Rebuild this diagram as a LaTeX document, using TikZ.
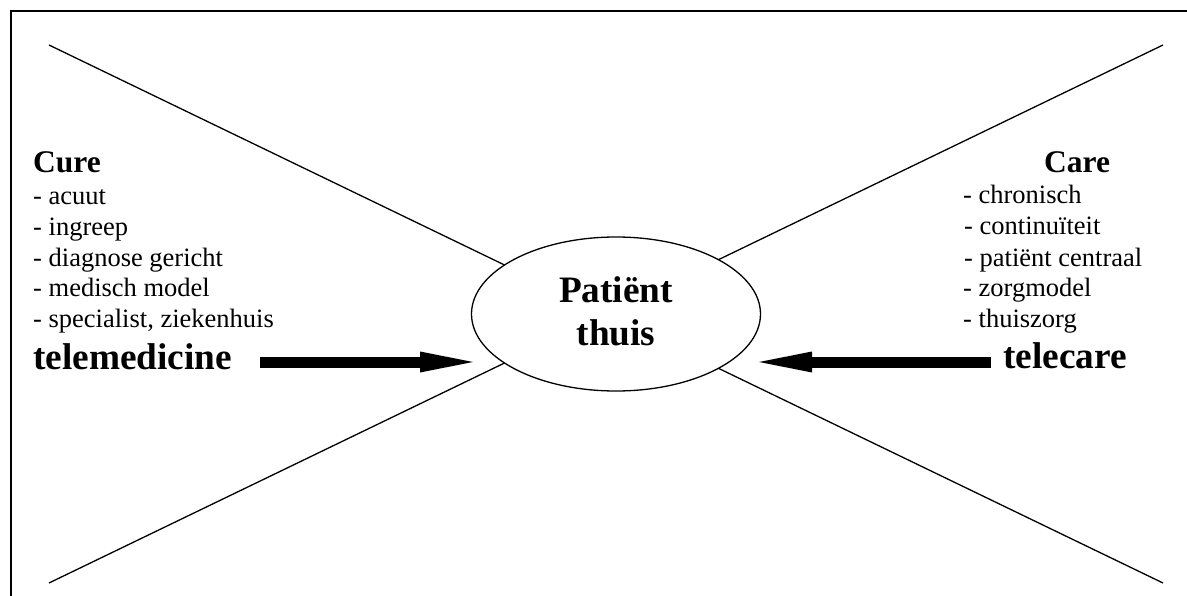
\documentclass[tikz,border=0pt]{standalone}
\usepackage{fontspec}
\setmainfont{Liberation Serif}
\usetikzlibrary{arrows.meta,shapes.geometric}
\begin{document}
\begin{tikzpicture}[x=1pt,y=-1pt,
  item/.style={anchor=base west, inner sep=0pt, font=\fontsize{26.5}{30}\selectfont},
  head/.style={anchor=base west, inner sep=0pt, font=\fontsize{31.5}{36}\selectfont\bfseries},
  big/.style={anchor=base west, inner sep=0pt, font=\fontsize{37.3}{42}\selectfont\bfseries},
  cross/.style={line width=1.3pt},
  fat/.style={line width=11pt, -{Triangle[length=53pt,width=21pt,line width=0pt]}},
  frame/.style={line width=2pt},
]
\useasboundingbox (0,0) rectangle (1187,596);
% frame (left and top edges visible)
\draw[frame] (11,596) -- (11,11) -- (1187,11);
% cross lines
\coordinate (tl) at (49,45);
\coordinate (tr) at (1163,45);
\coordinate (bl) at (49,583);
\coordinate (br) at (1163,583);
\draw[cross] (tl) -- (br);
\draw[cross] (bl) -- (tr);
% central ellipse
\node[draw, ellipse, fill=white, line width=1.3pt, inner sep=0pt,
      minimum width=289pt, minimum height=154pt] (pat) at (616,314) {};
\node[big, anchor=base] (pt1) at (616,302) {Patiënt};
\node[big, anchor=base] (pt2) at (616,345) {thuis};
% left column
\node[head] (cure) at (33,173) {Cure};
\node[item] (c1) at (33,205) {- acuut};
\node[item] (c2) at (33,236) {- ingreep};
\node[item] (c3) at (33,267) {- diagnose gericht};
\node[item] (c4) at (33,297) {- medisch model};
\node[item] (c5) at (33,327) {- specialist, ziekenhuis};
\node[big] (tm) at (33,369) {telemedicine};
% right column
\node[head] (care) at (1044,173) {Care};
\node[item] (r1) at (963,204) {- chronisch};
\node[item] (r2) at (964,235) {- continuïteit};
\node[item] (r3) at (964,267) {- patiënt centraal};
\node[item] (r4) at (963,297) {- zorgmodel};
\node[item] (r5) at (963,327) {- thuiszorg};
\node[big] (tc) at (1003,368) {telecare};
% arrows
\coordinate (la1) at (260,362);
\coordinate (la2) at (473,362);
\coordinate (ra1) at (991,362);
\coordinate (ra2) at (759,362);
\draw[fat] (la1) -- (la2);
\draw[fat] (ra1) -- (ra2);
\end{tikzpicture}
\end{document}
